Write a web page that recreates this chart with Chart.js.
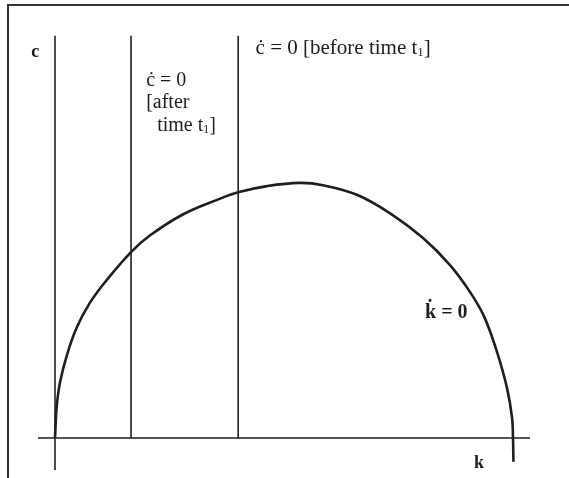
<!DOCTYPE html>
<html>
<head>
<meta charset="utf-8">
<script src="https://cdn.jsdelivr.net/npm/chart.js@4"></script>
<style>
  html, body { margin: 0; padding: 0; background: #fff; }
  #wrap { position: relative; width: 569px; height: 478px; }
</style>
</head>
<body>
<div id="wrap"><canvas id="chart"></canvas></div>
<script>
// k-dot = 0 locus (capital stock k, consumption c)
const kdotK = [0, 0.01, 0.04, 0.11, 0.26, 0.47, 0.76, 1.13, 1.66, 2.07, 2.79, 3.54, 4.02, 4.63, 5.35, 5.85, 6.59, 7.31, 8.03, 8.62, 9.06, 9.37, 9.65, 9.87, 9.98, 10.0, 10.01];
const kdotC = [0, 0.22, 0.72, 1.22, 1.81, 2.40, 2.95, 3.45, 4.06, 4.42, 4.88, 5.20, 5.37, 5.50, 5.57, 5.52, 5.31, 4.91, 4.37, 3.78, 3.19, 2.65, 1.88, 1.09, 0.44, 0, -0.52];

// c-dot = 0 loci: vertical lines at k after / before time t1
const cdotAfterK = 1.66;
const cdotBeforeK = 4.0;
const cdotTop = 8.78;

// axes extents
const kAxis = [-0.37, 10.37];
const cAxis = [-0.70, 8.78];

const ink = '#1e1e1e';
const pts = (xs, ys) => xs.map((x, i) => ({ x: x, y: ys[i] }));

const serif = '"Liberation Serif", "DejaVu Serif", serif';

// text labels drawn in data coordinates
const notes = [
  { k: -0.52, c: 8.43, parts: [['c', 'bold 18px']] },
  { k: 1.99, c: 7.80, parts: [['\u010B = 0', '20px']] },
  { k: 1.99, c: 7.33, parts: [['[after', '20px']] },
  { k: 2.23, c: 6.82, parts: [['time t', '20px'], ['1', '12px', 4], [']', '20px']] },
  { k: 4.38, c: 8.51, parts: [['\u010B = 0 [before time t', '21px'], ['1', '13px', 4], [']', '21px']] },
  { k: 8.08, c: 2.73, parts: [['k\u0307 = 0', 'bold 20px']] },
  { k: 9.15, c: -0.55, parts: [['k', 'bold 18px']] }
];

const notesPlugin = {
  id: 'notes',
  beforeDraw(chart) {
    const g = chart.ctx;
    g.save();
    // frame round the figure
    g.strokeStyle = '#333';
    g.lineWidth = 2;
    g.beginPath();
    g.moveTo(8, 478);
    g.lineTo(8, 5);
    g.lineTo(569, 5);
    g.stroke();
    g.restore();
  },
  afterDraw(chart) {
    const g = chart.ctx;
    const xs = chart.scales.x, ys = chart.scales.y;
    g.save();
    g.fillStyle = ink;
    g.textBaseline = 'middle';
    notes.forEach(n => {
      let x = xs.getPixelForValue(n.k);
      const y = ys.getPixelForValue(n.c);
      n.parts.forEach(p => {
        g.font = p[1] + ' ' + serif;
        g.fillText(p[0], x, y + (p[2] || 0));
        x += g.measureText(p[0]).width;
      });
    });
    g.restore();
  }
};

const line = (data, width) => ({
  data: data,
  borderColor: ink,
  borderWidth: width,
  pointRadius: 0,
  fill: false,
  showLine: true
});

new Chart(document.getElementById('chart'), {
  type: 'scatter',
  data: {
    datasets: [
      line(pts(kAxis, [0, 0]), 1.6),
      line(pts([0, 0], cAxis), 1.6),
      line(pts([cdotAfterK, cdotAfterK], [0, cdotTop]), 1.6),
      line(pts([cdotBeforeK, cdotBeforeK], [0, cdotTop]), 1.6),
      Object.assign(line(pts(kdotK, kdotC), 2.6), { tension: 0.4 })
    ]
  },
  options: {
    responsive: true,
    maintainAspectRatio: false,
    animation: false,
    layout: { padding: 0 },
    plugins: { legend: { display: false }, tooltip: { enabled: false } },
    scales: {
      x: { type: 'linear', display: false, min: -1.201, max: 11.223 },
      y: { type: 'linear', display: false, min: -0.873, max: 9.563 }
    }
  },
  plugins: [notesPlugin]
});
</script>
</body>
</html>
